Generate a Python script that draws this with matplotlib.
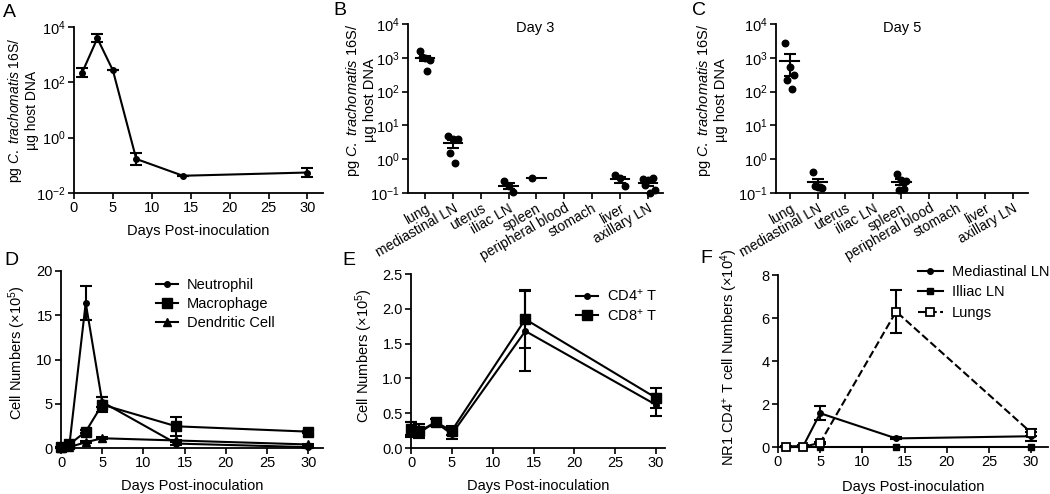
import numpy as np
import matplotlib
matplotlib.use('Agg')
import matplotlib.pyplot as plt
from matplotlib.ticker import NullLocator, LogFormatterSciNotation, FormatStrFormatter

plt.rcParams['font.family'] = ['Liberation Sans', 'DejaVu Sans']
plt.rcParams['mathtext.fontset'] = 'custom'
plt.rcParams['mathtext.rm'] = 'Liberation Sans'
plt.rcParams['mathtext.it'] = 'Liberation Sans:italic'
plt.rcParams['font.size'] = 10

# panel A: bacterial load in lung over time
days_a = [1, 3, 5, 8, 14, 30]
load_a = [210, 3900, 270, 0.17, 0.042, 0.055]
load_a_lo = [150, 2950, 270, 0.10, 0.042, 0.037]
load_a_hi = [320, 5500, 270, 0.27, 0.042, 0.077]

# panels B/C: dissemination by tissue
tissues = ['lung', 'mediastinal LN', 'uterus', 'iliac LN', 'spleen',
           'peripheral blood', 'stomach', 'liver', 'axillary LN']
day3_vals = [
    [1550, 1000, 850, 1050, 400],
    [4.7, 4.0, 3.9, 1.5, 0.75],
    [],
    [0.23, 0.16, 0.11],
    [0.27],
    [],
    [],
    [0.33, 0.27, 0.16],
    [0.26, 0.25, 0.27, 0.17, 0.10, 0.12],
]
day5_vals = [
    [2800, 520, 320, 220, 120],
    [0.43, 0.15, 0.14, 0.16, 0.15],
    [],
    [],
    [0.36, 0.24, 0.22, 0.12, 0.13],
    [],
    [],
    [],
    [],
]

# panel D: innate cells
days_d = [0, 1, 3, 5, 14, 30]
neutrophil = [0.1, 0.2, 16.4, 5.2, 0.5, 0.1]
neutrophil_err = [0.05, 0.1, 1.9, 0.6, 0.2, 0.05]
macrophage = [0.1, 0.4, 1.85, 4.9, 2.45, 1.85]
macrophage_err = [0.05, 0.1, 0.2, 0.85, 1.1, 0.1]
dendritic = [0.05, 0.1, 0.65, 1.1, 0.85, 0.4]
dendritic_err = [0.02, 0.05, 0.1, 0.1, 0.1, 0.05]

# panel E: T cells
days_e = [0, 1, 3, 5, 14, 30]
cd4 = [0.27, 0.22, 0.37, 0.20, 1.68, 0.62]
cd4_err = [0.11, 0.07, 0.05, 0.07, 0.58, 0.16]
cd8 = [0.28, 0.24, 0.37, 0.25, 1.85, 0.72]
cd8_err = [0.10, 0.10, 0.05, 0.07, 0.42, 0.14]

# panel F: NR1 CD4+ T cells
days_f = [1, 3, 5, 14, 30]
mediastinal = [0.02, 0.05, 1.57, 0.4, 0.5]
mediastinal_err = [0.02, 0.02, 0.32, 0.05, 0.22]
iliac = [0.0, 0.0, 0.0, 0.0, 0.0]
lungs = [0.0, 0.0, 0.2, 6.3, 0.67]
lungs_err = [0.0, 0.0, 0.05, 1.0, 0.15]

W, H = 1050, 494
fig = plt.figure(figsize=(W / 100, H / 100), dpi=100)


def px_axes(l, t, r, b):
    return fig.add_axes([l / W, 1 - b / H, (r - l) / W, (b - t) / H])


def style(ax):
    for s in ['top', 'right']:
        ax.spines[s].set_visible(False)
    for s in ['left', 'bottom']:
        ax.spines[s].set_linewidth(1.3)
    ax.tick_params(direction='out', length=4, width=1.2, labelsize=10.5, pad=2)


def log_y(ax, lo, hi, ticks):
    ax.set_yscale('log')
    ax.set_ylim(lo, hi)
    ax.set_yticks(ticks)
    ax.yaxis.set_major_formatter(LogFormatterSciNotation())
    ax.yaxis.set_minor_locator(NullLocator())


def series(ax, x, y, err, label, **kw):
    # error bars first, then the line with markers (clean legend handle)
    if err is not None:
        ax.errorbar(x, y, yerr=err, fmt='none', ecolor='black', elinewidth=1.5,
                    capsize=4, capthick=1.5, clip_on=False, zorder=2)
    ax.plot(x, y, color='black', lw=1.5, mec='black', label=label, clip_on=False,
            zorder=3, **kw)


load_label = 'pg $\\mathit{C.\\ trachomatis}$ 16S/\nµg host DNA'
lab_fs = 10.5
days_label = 'Days Post-inoculation'

# ---- A
ax = px_axes(74, 27, 323, 193)
style(ax)
yerr = [np.array(load_a) - np.array(load_a_lo), np.array(load_a_hi) - np.array(load_a)]
series(ax, days_a, load_a, yerr, None, marker='o', ms=4, mfc='black')
log_y(ax, 1e-2, 1e4, [1e-2, 1e0, 1e2, 1e4])
ax.set_xlim(0, 32)
ax.set_xticks([0, 5, 10, 15, 20, 25, 30])
ax.set_xlabel(days_label, fontsize=lab_fs, labelpad=6)
ax.set_ylabel(load_label, fontsize=10, linespacing=1.1)
ax.yaxis.set_label_coords(-0.14, 0.5)


# ---- B, C
def tissue_panel(ax, vals, title, xlo):
    style(ax)
    for i, v in enumerate(vals):
        if not v:
            continue
        v = np.array(v, dtype=float)
        n = len(v)
        offs = (np.arange(n) % 3 - 1) * 0.17 + ((np.arange(n) // 3) % 2) * 0.08
        ax.scatter(i + offs, v, s=22, color='black', zorder=3, clip_on=False)
        m = v.mean()
        ax.plot([i - 0.33, i + 0.33], [m, m], color='black', lw=1.5, zorder=2)
        if n > 1:
            sem = v.std(ddof=1) / np.sqrt(n)
            ax.errorbar([i], [m], yerr=[[sem], [sem]], fmt='none', ecolor='black',
                        elinewidth=1.5, capsize=4, capthick=1.5, zorder=2)
    log_y(ax, 1e-1, 1e4, [1e-1, 1e0, 1e1, 1e2, 1e3, 1e4])
    ax.set_xlim(xlo, 8.54)
    ax.set_xticks(range(len(tissues)))
    ax.set_xticklabels(tissues, rotation=30, ha='right', va='top',
                       rotation_mode='anchor', fontsize=10)
    ax.set_ylabel(load_label, fontsize=10.5, linespacing=1.1)
    ax.text(0.5, 0.975, title, transform=ax.transAxes, ha='center', va='center', fontsize=10.5)


ax = px_axes(408, 24, 663, 193)
tissue_panel(ax, day3_vals, 'Day 3', -0.61)
ax.yaxis.set_label_coords(-0.12, 0.55)

ax = px_axes(776, 24, 1028, 193)
tissue_panel(ax, day5_vals, 'Day 5', -0.49)
ax.yaxis.set_label_coords(-0.19, 0.55)

leg_kw = dict(loc='upper left', frameon=False, handletextpad=0.6,
              borderpad=0, borderaxespad=0, fontsize=10.5)

# ---- D
ax = px_axes(61, 271, 323, 448)
style(ax)
series(ax, days_d, neutrophil, neutrophil_err, 'Neutrophil', marker='o', ms=4, mfc='black')
series(ax, days_d, macrophage, macrophage_err, 'Macrophage', marker='s', ms=6.5, mfc='black')
series(ax, days_d, dendritic, dendritic_err, 'Dendritic Cell', marker='^', ms=5.5, mfc='black')
ax.set_xlim(0, 31.8)
ax.set_ylim(0, 20)
ax.set_xticks([0, 5, 10, 15, 20, 25, 30])
ax.set_yticks([0, 5, 10, 15, 20])
ax.set_xlabel(days_label, fontsize=lab_fs, labelpad=6)
ax.set_ylabel('Cell Numbers (×10$^{5}$)', fontsize=lab_fs)
ax.yaxis.set_label_coords(-0.126, 0.54)
ax.legend(bbox_to_anchor=((156 - 61) / 262, 0.96), labelspacing=0.35,
          handlelength=1.5, **leg_kw)

# ---- E
ax = px_axes(411, 274, 665, 448)
style(ax)
series(ax, days_e, cd4, cd4_err, 'CD4$^{+}$ T', marker='o', ms=4, mfc='black')
series(ax, days_e, cd8, cd8_err, 'CD8$^{+}$ T', marker='s', ms=6.5, mfc='black')
ax.set_xlim(0, 31.1)
ax.set_ylim(0, 2.5)
ax.set_xticks([0, 5, 10, 15, 20, 25, 30])
ax.set_yticks([0, 0.5, 1.0, 1.5, 2.0, 2.5])
ax.yaxis.set_major_formatter(FormatStrFormatter('%.1f'))
ax.set_xlabel(days_label, fontsize=lab_fs, labelpad=6)
ax.set_ylabel('Cell Numbers (×10$^{5}$)', fontsize=lab_fs)
ax.yaxis.set_label_coords(-0.142, 0.53)
ax.legend(bbox_to_anchor=((576 - 411) / 254, 0.92), labelspacing=0.25,
          handlelength=1.5, **leg_kw)

# ---- F
ax = px_axes(778, 275, 1048, 447)
style(ax)
series(ax, days_f, mediastinal, mediastinal_err, 'Mediastinal LN', marker='o', ms=4, mfc='black')
series(ax, days_f, iliac, None, 'Illiac LN', marker='s', ms=4.5, mfc='black')
series(ax, days_f, lungs, lungs_err, 'Lungs', marker='s', ms=6, mfc='white', mew=1.3, ls='--')
ax.set_xlim(0, 32)
ax.set_ylim(0, 8)
ax.set_xticks([0, 5, 10, 15, 20, 25, 30])
ax.set_yticks([0, 2, 4, 6, 8])
ax.set_xlabel(days_label, fontsize=lab_fs, labelpad=8)
ax.set_ylabel('NR1 CD4$^{+}$ T cell Numbers (×10$^{4}$)', fontsize=10.5)
ax.yaxis.set_label_coords(-0.14, 0.52)
ax.legend(bbox_to_anchor=((918 - 778) / 270, 1.06), labelspacing=0.45,
          handlelength=1.7, **leg_kw)

# panel letters
for letter, x, y in [('A', 3, 4), ('B', 333, 2), ('C', 692, 2),
                     ('D', 4, 252), ('E', 342, 252), ('F', 700, 250)]:
    fig.text(x / W, 1 - y / H, letter, fontsize=14, ha='left', va='top')

fig.savefig('out.png', dpi=100)
